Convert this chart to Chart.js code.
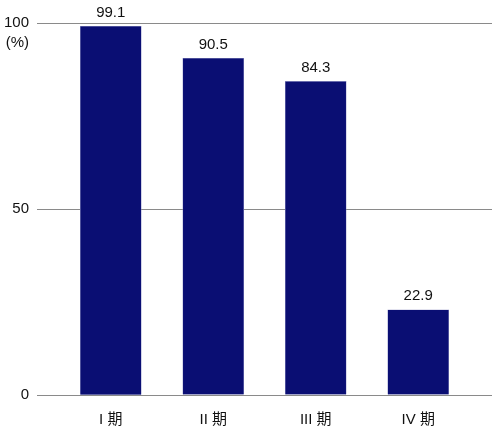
<!DOCTYPE html>
<html>
<head>
<meta charset="utf-8">
<script src="https://cdn.jsdelivr.net/npm/chart.js@4"></script>
<style>
  html, body { margin: 0; padding: 0; background: #fff; }
  #wrap { width: 500px; height: 431px; }
</style>
</head>
<body>
<div id="wrap"><canvas id="myChart"></canvas></div>
<script>
const categories = ["I 期", "II 期", "III 期", "IV 期"];
const values = [99.1, 90.5, 84.3, 22.9];
const yTicks = [0, 50, 100];
const unitLabel = "(%)";

const fontFamily = "'Liberation Sans', Arial, 'Noto Sans CJK JP', sans-serif";
const barColor = "#0a0e73";

// value labels above bars + unit under the 100 tick
const labelPlugin = {
  id: "labels",
  afterDatasetsDraw(chart) {
    const ctx = chart.ctx;
    const meta = chart.getDatasetMeta(0);
    ctx.save();
    ctx.font = "15px " + fontFamily;
    ctx.fillStyle = "#111";
    ctx.textAlign = "center";
    ctx.textBaseline = "bottom";
    meta.data.forEach((bar, i) => {
      ctx.fillText(values[i].toFixed(1), bar.x, bar.y - 6);
    });
    const y = chart.scales.y;
    ctx.textAlign = "right";
    ctx.textBaseline = "middle";
    ctx.fillText(unitLabel, y.right - 8, y.getPixelForValue(100) + 20);
    ctx.restore();
  },
};

const chart1 = document.getElementById("myChart").getContext("2d");
new Chart(chart1, {
  type: "bar",
  data: {
    datasets: [
      {
        data: values.map((v, i) => ({ x: i, y: v })),
        backgroundColor: barColor,
        borderColor: "#8a8cc0",
        borderWidth: 0.6,
        barThickness: 61,
      },
    ],
  },
  options: {
    responsive: true,
    maintainAspectRatio: false,
    animation: false,
    layout: { padding: { top: 23, right: 8, left: 0, bottom: 0 } },
    plugins: { legend: { display: false }, tooltip: { enabled: false } },
    scales: {
      x: {
        type: "linear",
        offset: false,
        min: -0.72,
        max: 3.72,
        afterBuildTicks: (s) => {
          s.ticks = categories.map((c, i) => ({ value: i }));
        },
        afterFit: (s) => { s.height = 36; },
        grid: { display: false },
        border: { display: false },
        ticks: {
          autoSkip: false,
          maxRotation: 0,
          padding: 8,
          color: "#111",
          font: { size: 15, family: fontFamily },
          callback: (v) => categories[v],
        },
      },
      y: {
        min: 0,
        max: 100,
        afterBuildTicks: (s) => {
          s.ticks = yTicks.map((v) => ({ value: v }));
        },
        afterFit: (s) => { s.width = 37; },
        grid: { color: "#8a8a8a", lineWidth: 1, drawTicks: false },
        border: { display: false },
        ticks: {
          padding: 8,
          color: "#111",
          font: { size: 15, family: fontFamily },
        },
      },
    },
  },
  plugins: [labelPlugin],
});
</script>
</body>
</html>
